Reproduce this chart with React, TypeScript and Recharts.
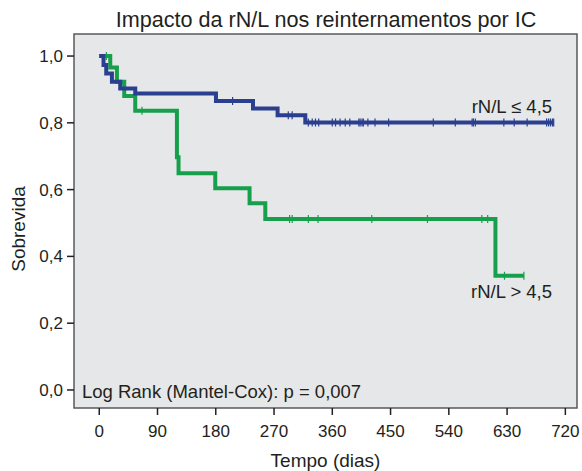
import { LineChart, Line, XAxis, YAxis, ReferenceArea, ReferenceDot } from "recharts"

const FONT = '"Liberation Sans", Arial, Helvetica, sans-serif'
const INK = "#231f20"
const BLUE = "#2a3f8f"
const GREEN = "#16a04b"

const xTicks = [0, 90, 180, 270, 360, 450, 540, 630, 720]
const yTicks = [0, 0.2, 0.4, 0.6, 0.8, 1.0]
const xDomain = [-39, 738]
const yDomain = [-0.054, 1.066]

// rN/L ≤ 4,5
const lowEventTimes = [0, 6.6, 10.8, 19.6, 32.4, 55.6, 180.3, 237.5, 275.5, 318.3]
const lowSurvival = [1, 0.973, 0.948, 0.923, 0.903, 0.888, 0.865, 0.843, 0.823, 0.801]
const lowCensored = [
  206, 292, 298, 323, 329, 334, 339, 360, 365, 372, 380, 387, 401, 403, 406, 408,
  415, 426, 447, 516, 550, 576, 578, 581, 625, 641, 661, 691, 694, 697, 700, 702,
]

// rN/L > 4,5
const highEventTimes = [0, 17, 27.3, 38.6, 55.6, 120, 122.5, 179.2, 232.2, 256.5, 612]
const highSurvival = [1, 0.966, 0.923, 0.88, 0.836, 0.697, 0.649, 0.604, 0.559, 0.512, 0.342]
const highCensored = [11, 66, 294, 298, 323, 338, 421, 507, 591, 600, 626, 656]

type Pt = { t: number; s: number; censored: boolean }

// event steps plus censored cases sitting on the current survival level
function buildCurve(times: number[], surv: number[], censored: number[]): Pt[] {
  const pts: Pt[] = times.map((t, i) => ({ t, s: surv[i], censored: false }))
  censored.forEach((t) => {
    let s = surv[0]
    times.forEach((et, i) => {
      if (et <= t) s = surv[i]
    })
    pts.push({ t, s, censored: true })
  })
  return pts.sort((a, b) => a.t - b.t)
}

const lowCurve = buildCurve(lowEventTimes, lowSurvival, lowCensored)
const highCurve = buildCurve(highEventTimes, highSurvival, highCensored)

const censorMark = (color: string) => (props: any) => {
  const { cx, cy, payload, index } = props
  if (!payload?.censored) return <g key={`n-${index}`} />
  return (
    <line key={`c-${index}`} x1={cx} x2={cx} y1={cy - 4} y2={cy + 4} stroke={color} strokeWidth={1.2} />
  )
}

const fmt = (v: number) => v.toFixed(1).replace(".", ",")

const note = (text: string, anchor: "start" | "end") => (props: any) => {
  const { viewBox } = props
  const x = viewBox.x + (anchor === "end" ? 0 : viewBox.width)
  const y = viewBox.y + viewBox.height / 2
  return (
    <text x={x} y={y} dy="0.355em" textAnchor={anchor} fontSize={18.5} fontFamily={FONT} fill={INK}>
      {text}
    </text>
  )
}

export default function App() {
  return (
    <div style={{ position: "absolute", left: 0, top: 0, width: 582, height: 471, background: "#fff" }}>
      <div
        style={{
          position: "absolute",
          left: 326,
          top: 9,
          transform: "translateX(-50%)",
          whiteSpace: "nowrap",
          fontFamily: FONT,
          fontSize: 21.6,
          lineHeight: "21px",
          color: INK,
        }}
      >
        Impacto da rN/L nos reinternamentos por IC
      </div>
      <LineChart width={582} height={471} margin={{ top: 34, right: 5, bottom: 0, left: 0 }}>
        <ReferenceArea
          x1={xDomain[0]}
          x2={xDomain[1]}
          y1={yDomain[0]}
          y2={yDomain[1]}
          fill="#e6e7e8"
          fillOpacity={1}
          stroke="#58595b"
          strokeWidth={1.5}
          ifOverflow="visible"
        />
        <XAxis
          type="number"
          dataKey="t"
          domain={xDomain}
          ticks={xTicks}
          allowDataOverflow
          height={63}
          tickSize={7}
          tickMargin={10}
          axisLine={false}
          tickLine={{ stroke: INK, strokeWidth: 1.5 }}
          tick={{ fill: INK, fontSize: 17, fontFamily: FONT }}
          label={{
            value: "Tempo (dias)",
            position: "insideBottom",
            offset: 4,
            fill: INK,
            fontSize: 19,
            fontFamily: FONT,
          }}
        />
        <YAxis
          type="number"
          domain={yDomain}
          ticks={yTicks}
          allowDataOverflow
          width={74}
          tickSize={7}
          tickMargin={4}
          axisLine={false}
          tickLine={{ stroke: INK, strokeWidth: 1.5 }}
          tickFormatter={fmt}
          tick={{ fill: INK, fontSize: 17, fontFamily: FONT }}
          label={{
            content: () => (
              <text
                x={18}
                y={229}
                transform="rotate(-90, 18, 229)"
                dy="0.355em"
                textAnchor="middle"
                fontSize={19}
                fontFamily={FONT}
                fill={INK}
              >
                Sobrevida
              </text>
            ),
          }}
        />
        <Line
          data={highCurve}
          dataKey="s"
          type="stepAfter"
          stroke={GREEN}
          strokeWidth={4}
          dot={censorMark(GREEN)}
          activeDot={false}
          isAnimationActive={false}
        />
        <Line
          data={lowCurve}
          dataKey="s"
          type="stepAfter"
          stroke={BLUE}
          strokeWidth={4}
          dot={censorMark(BLUE)}
          activeDot={false}
          isAnimationActive={false}
        />
        <ReferenceDot x={699.5} y={0.849} r={0} fill="none" stroke="none" label={{ content: note("rN/L ≤ 4,5", "end") }} />
        <ReferenceDot x={699.5} y={0.295} r={0} fill="none" stroke="none" label={{ content: note("rN/L > 4,5", "end") }} />
        <ReferenceDot
          x={-26.7}
          y={-0.004}
          r={0}
          fill="none"
          stroke="none"
          label={{ content: note("Log Rank (Mantel-Cox): p = 0,007", "start") }}
        />
      </LineChart>
    </div>
  )
}
